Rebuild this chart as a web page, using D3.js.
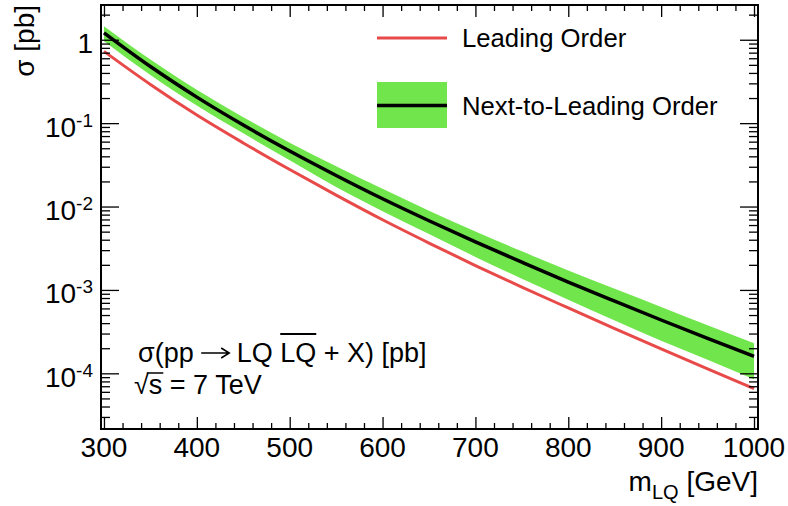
<!DOCTYPE html>
<html>
<head>
<meta charset="utf-8">
<script src="https://cdn.jsdelivr.net/npm/d3@7"></script>
<style>
body { margin: 0; background: #fff; }
text { font-family: "Liberation Sans", Arial, Helvetica, sans-serif; fill: #000; white-space: pre; }
</style>
</head>
<body>
<svg id="chart" width="788" height="506"></svg>
<script>
// LQ pair production cross section, 7 TeV
var masses = [300, 350, 400, 450, 500, 550, 600, 650, 700, 750, 800, 850, 900, 950, 1000];
var sigmaNLO = [1.21, 0.477, 0.205, 0.0949, 0.0463, 0.0236, 0.0124, 0.00676, 0.00377, 0.00215, 0.00124, 0.000732, 0.000436, 0.000263, 0.00016];
var sigmaNLOUp = [1.455, 0.580, 0.252, 0.118, 0.0583, 0.0304, 0.0163, 0.00891, 0.00503, 0.00290, 0.00171, 0.00103, 0.000623, 0.000376, 0.000229];
var sigmaNLODown = [0.961, 0.379, 0.163, 0.0754, 0.0359, 0.0171, 0.00878, 0.00468, 0.00249, 0.00136, 0.000765, 0.000431, 0.000245, 0.000145, 0.000085];
var sigmaLO = [0.726, 0.291, 0.125, 0.0579, 0.0278, 0.0137, 0.00694, 0.00365, 0.00196, 0.00108, 0.000608, 0.000344, 0.000196, 0.000113, 0.0000656];

var xMajorTicks = [300, 400, 500, 600, 700, 800, 900, 1000];
var yDecades = [0, -1, -2, -3, -4];

var legendNames = ["Leading Order", "Next-to-Leading Order"];

function drawChart() {
    var svg = d3.select("#chart");
    var x = d3.scaleLinear().domain([296.8, 1004.3]).range([101, 758]);
    var y = d3.scaleLog().domain([2.15e-5, 2.61]).range([429, 5]);

    var pts = masses.map(function (m, i) {
        return { m: m, nlo: sigmaNLO[i], up: sigmaNLOUp[i], dn: sigmaNLODown[i], lo: sigmaLO[i] };
    });

    var band = d3.area().curve(d3.curveMonotoneX)
        .x(function (d) { return x(d.m); })
        .y0(function (d) { return y(d.dn); })
        .y1(function (d) { return y(d.up); });
    svg.append("path").datum(pts).attr("d", band).attr("fill", "#70e54c");

    var loLine = d3.line().curve(d3.curveMonotoneX)
        .x(function (d) { return x(d.m); })
        .y(function (d) { return y(d.lo); });
    svg.append("path").datum(pts).attr("d", loLine)
        .attr("fill", "none").attr("stroke", "#e84a4a").attr("stroke-width", 3);

    var nloLine = d3.line().curve(d3.curveMonotoneX)
        .x(function (d) { return x(d.m); })
        .y(function (d) { return y(d.nlo); });
    svg.append("path").datum(pts).attr("d", nloLine)
        .attr("fill", "none").attr("stroke", "#000").attr("stroke-width", 3.5);

    // ticks
    var xMinor = d3.range(300, 1001, 20).filter(function (v) { return v % 100 != 0; });
    var yMajor = yDecades.map(function (e) { return Math.pow(10, e); });
    var yMinor = [];
    for (var e = -5; e <= 0; e++) {
        for (var k = 2; k <= 9; k++) {
            var v = k * Math.pow(10, e);
            if (v > 2.15e-5 && v < 2.61) yMinor.push(v);
        }
    }

    function tickGroup(axis, tx, ty) {
        var g = svg.append("g").attr("transform", "translate(" + tx + "," + ty + ")").call(axis);
        g.select(".domain").remove();
        g.selectAll("line").attr("stroke", "#000").attr("stroke-width", 1.3);
        g.selectAll("text").remove();
        return g;
    }
    tickGroup(d3.axisBottom(x).tickValues(xMajorTicks).tickSize(-12), 0, 429);
    tickGroup(d3.axisBottom(x).tickValues(xMinor).tickSize(-6), 0, 429);
    tickGroup(d3.axisTop(x).tickValues(xMajorTicks).tickSize(-12), 0, 5);
    tickGroup(d3.axisTop(x).tickValues(xMinor).tickSize(-6), 0, 5);
    tickGroup(d3.axisLeft(y).tickValues(yMajor).tickSize(-18), 101, 0);
    tickGroup(d3.axisLeft(y).tickValues(yMinor).tickSize(-9), 101, 0);
    tickGroup(d3.axisRight(y).tickValues(yMajor).tickSize(-18), 758, 0);
    tickGroup(d3.axisRight(y).tickValues(yMinor).tickSize(-9), 758, 0);

    svg.append("rect").attr("x", 101).attr("y", 5).attr("width", 657).attr("height", 424)
        .attr("fill", "none").attr("stroke", "#000").attr("stroke-width", 2);

    // tick labels
    svg.selectAll(".xlab").data(xMajorTicks).enter().append("text")
        .attr("class", "xlab")
        .attr("x", function (d) { return x(d); })
        .attr("y", 457)
        .attr("text-anchor", "middle")
        .attr("font-size", 28)
        .text(function (d) { return d; });

    yDecades.forEach(function (e) {
        var t = svg.append("text")
            .attr("x", 93).attr("y", y(Math.pow(10, e)) + 13.5)
            .attr("text-anchor", "end").attr("font-size", 28);
        if (e == 0) {
            t.text("1");
        } else {
            t.append("tspan").text("10");
            t.append("tspan").attr("font-size", 19).attr("dy", -10).text(String(e));
        }
    });

    // axis titles
    var xt = svg.append("text").attr("x", 758).attr("y", 491)
        .attr("text-anchor", "end").attr("font-size", 28);
    xt.append("tspan").text("m");
    xt.append("tspan").attr("font-size", 20).attr("dy", 8).text("LQ");
    xt.append("tspan").attr("dy", -8).text(" [GeV]");

    svg.append("text").attr("transform", "translate(34,5) rotate(-90)")
        .attr("text-anchor", "end").attr("font-size", 28)
        .text("σ [pb]");

    // legend
    svg.append("line").attr("x1", 377).attr("x2", 447).attr("y1", 38).attr("y2", 38)
        .attr("stroke", "#e84a4a").attr("stroke-width", 3);
    svg.append("rect").attr("x", 377).attr("y", 82).attr("width", 70).attr("height", 46)
        .attr("fill", "#70e54c");
    svg.append("line").attr("x1", 377).attr("x2", 447).attr("y1", 105.5).attr("y2", 105.5)
        .attr("stroke", "#000").attr("stroke-width", 3.5);
    svg.selectAll(".leg").data(legendNames).enter().append("text")
        .attr("class", "leg")
        .attr("x", 462)
        .attr("y", function (d, i) { return i == 0 ? 47 : 115; })
        .attr("font-size", 25.7)
        .text(function (d) { return d; });

    // process label: sigma(pp -> LQ LQbar + X) [pb]
    var fs = 27, base = 362, cx = 138;
    function piece(str, x0, yb) {
        return svg.append("text").attr("x", x0).attr("y", yb).attr("font-size", fs).text(str);
    }
    cx += piece("σ(pp ", cx, base).node().getComputedTextLength();
    svg.append("path")
        .attr("d", "M" + cx + "," + (base - 9) + "H" + (cx + 27) +
            "M" + (cx + 20) + "," + (base - 14) + "L" + (cx + 28) + "," + (base - 9) + "L" + (cx + 20) + "," + (base - 4))
        .attr("fill", "none").attr("stroke", "#000").attr("stroke-width", 1.6);
    cx += 28;
    cx += piece(" LQ ", cx, base).node().getComputedTextLength();
    var wbar = piece("LQ", cx, base).node().getComputedTextLength();
    svg.append("line").attr("x1", cx).attr("x2", cx + wbar).attr("y1", base - 28).attr("y2", base - 28)
        .attr("stroke", "#000").attr("stroke-width", 1.8);
    cx += wbar;
    piece(" + X) [pb]", cx, base);

    // sqrt(s) = 7 TeV
    var base2 = 394, sx = 134;
    sx += piece("√", sx, base2).node().getComputedTextLength();
    var wsq = piece("s", sx, base2).node().getComputedTextLength();
    svg.append("line").attr("x1", sx - 2).attr("x2", sx + wsq + 1).attr("y1", 373).attr("y2", 373)
        .attr("stroke", "#000").attr("stroke-width", 1.5);
    piece(" = 7 TeV", sx + wsq, base2);
}

drawChart();
</script>
</body>
</html>
